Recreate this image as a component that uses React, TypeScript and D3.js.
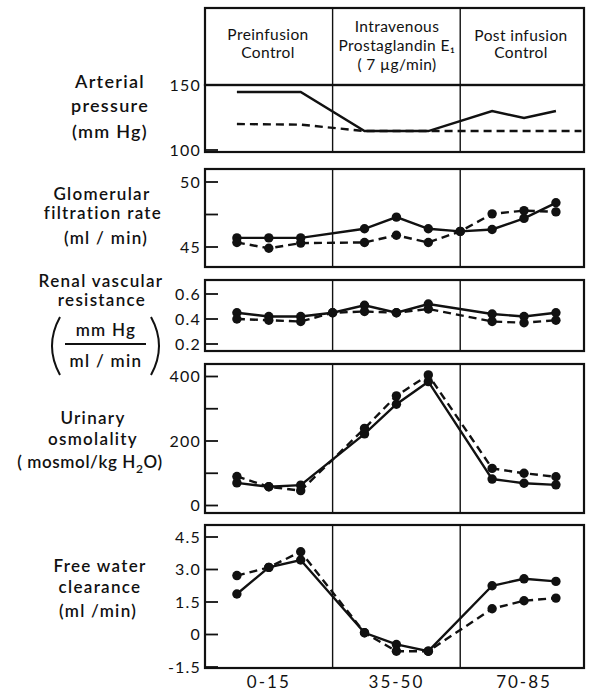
import React from "react";
import * as d3 from "d3";

// ---------- data ----------
const periodLabels = ["Preinfusion|Control", "Intravenous|Prostaglandin E₁|( 7 µg/min)", "Post infusion|Control"];
const xTickLabels = ["0-15", "35-50", "70-85"];
const xTickIdx = [1, 5, 9];

const artSolidX = [0, 2, 4, 6, 8, 9, 10];
const artSolid = [144.6, 144.6, 114.6, 114.6, 130, 124.6, 130];
const artDashX = [0, 2, 4, 10.8];
const artDash = [120, 119.5, 114.6, 114.6];

const gfrX = [0, 1, 2, 4, 5, 6, 7, 8, 9, 10];
const gfrSolid = [45.7, 45.7, 45.7, 46.4, 47.3, 46.4, 46.2, 46.35, 47.2, 48.4];
const gfrDash = [45.35, 44.9, 45.3, 45.35, 45.9, 45.35, 46.2, 47.55, 47.8, 47.7];

const rvrX = [0, 1, 2, 3, 4, 5, 6, 8, 9, 10];
const rvrSolid = [0.45, 0.42, 0.42, 0.45, 0.51, 0.45, 0.52, 0.44, 0.42, 0.45];
const rvrDash = [0.4, 0.39, 0.38, 0.45, 0.46, 0.45, 0.48, 0.38, 0.37, 0.39];

const osmX = [0, 1, 2, 4, 5, 6, 8, 9, 10];
const osmSolid = [70, 58, 63, 222, 314, 384, 82, 69, 64];
const osmDash = [90, 58, 46, 239, 340, 405, 115, 100, 89];

const fwcX = [0, 1, 2, 4, 5, 6, 8, 9, 10];
const fwcSolid = [1.87, 3.1, 3.44, 0.08, -0.46, -0.77, 2.25, 2.57, 2.45];
const fwcDash = [2.72, 3.1, 3.82, 0.08, -0.77, -0.77, 1.19, 1.56, 1.68];

const artTicks = [150, 100];
const artTickLabels = ["150", "100"];
const gfrTicks = [50, 47.5, 45];
const gfrTickLabels = ["50", "", "45"];
const rvrTicks = [0.6, 0.4, 0.2];
const rvrTickLabels = ["0.6", "0.4", "0.2"];
const osmTicks = [400, 300, 200, 100, 0];
const osmTickLabels = ["400", "", "200", "", "0"];
const fwcTicks = [4.5, 3.0, 1.5, 0, -1.5];
const fwcTickLabels = ["4.5", "3.0", "1.5", "0", "-1.5"];

const dividers = [3, 7];

// ---------- layout ----------
const W = 590, H = 693;
const LEFT = 205, RIGHT = 584;
const x = d3.scaleLinear().domain([-1, 10.88]).range([LEFT, RIGHT]);
const FONT = "Lato, 'Open Sans', sans-serif";

type Panel = {
  top: number; bottom: number; dom: [number, number]; rng: [number, number];
  ticks: number[]; tickLabels: string[];
  series: { xs: number[]; ys: number[]; dashed: boolean; dots: boolean }[];
};

const panels: Panel[] = [
  { top: 85, bottom: 152, dom: [150, 100], rng: [85, 150], ticks: artTicks, tickLabels: artTickLabels,
    series: [
      { xs: artSolidX, ys: artSolid, dashed: false, dots: false },
      { xs: artDashX, ys: artDash, dashed: true, dots: false },
    ] },
  { top: 169, bottom: 267, dom: [50, 45], rng: [182, 247], ticks: gfrTicks, tickLabels: gfrTickLabels,
    series: [
      { xs: gfrX, ys: gfrSolid, dashed: false, dots: true },
      { xs: gfrX, ys: gfrDash, dashed: true, dots: true },
    ] },
  { top: 280, bottom: 351, dom: [0.6, 0.2], rng: [294, 344], ticks: rvrTicks, tickLabels: rvrTickLabels,
    series: [
      { xs: rvrX, ys: rvrSolid, dashed: false, dots: true },
      { xs: rvrX, ys: rvrDash, dashed: true, dots: true },
    ] },
  { top: 364, bottom: 513, dom: [400, 0], rng: [376.5, 505.5], ticks: osmTicks, tickLabels: osmTickLabels,
    series: [
      { xs: osmX, ys: osmSolid, dashed: false, dots: true },
      { xs: osmX, ys: osmDash, dashed: true, dots: true },
    ] },
  { top: 525, bottom: 668, dom: [4.5, -1.5], rng: [537, 667], ticks: fwcTicks, tickLabels: fwcTickLabels,
    series: [
      { xs: fwcX, ys: fwcSolid, dashed: false, dots: true },
      { xs: fwcX, ys: fwcDash, dashed: true, dots: true },
    ] },
];

const labelStyle = { fontFamily: FONT, fontSize: 17, fontWeight: 600 as const, fill: "#111", letterSpacing: 1.3 };

function PanelView({ p }: { p: Panel }) {
  const y = d3.scaleLinear().domain(p.dom).range(p.rng);
  const line = d3.line<[number, number]>().x(d => x(d[0])).y(d => y(d[1]));
  return (
    <g>
      <rect x={LEFT} y={p.top} width={RIGHT - LEFT} height={p.bottom - p.top} fill="none" stroke="#111" strokeWidth={2.2} />
      {dividers.map(d => (
        <line key={d} x1={x(d)} x2={x(d)} y1={p.top} y2={p.bottom} stroke="#111" strokeWidth={1.4} />
      ))}
      {p.ticks.map((t, i) => (
        <g key={i}>
          <line x1={LEFT} x2={LEFT + 13} y1={y(t)} y2={y(t)} stroke="#111" strokeWidth={1.8} />
          <text x={LEFT - 4} y={y(t)} dy="0.36em" textAnchor="end"
            style={{ fontFamily: FONT, fontSize: 16, fill: "#111", letterSpacing: 1.2 }}>{p.tickLabels[i]}</text>
        </g>
      ))}
      {p.series.map((s, si) => {
        const pts = s.xs.map((xv, i) => [xv, s.ys[i]] as [number, number]);
        return (
          <g key={si}>
            <path d={line(pts) || ""} fill="none" stroke="#111" strokeWidth={2.4}
              strokeDasharray={s.dashed ? "8,5" : undefined} />
            {s.dots && pts.map((d, i) => (
              <circle key={i} cx={x(d[0])} cy={y(d[1])} r={4.7} fill="#111" />
            ))}
          </g>
        );
      })}
    </g>
  );
}

export default function App() {
  const headerTop = 8, headerBottom = 85;
  const colCenters = [268, 397, 521];
  const headerLines = [[35, 53], [27, 46, 65], [36, 53]];
  return (
    <svg width={W} height={H} style={{ position: "absolute", left: 0, top: 0, background: "#fff" }}>
      <rect x={0} y={0} width={W} height={H} fill="#fff" />
      {/* header */}
      <rect x={LEFT} y={headerTop} width={RIGHT - LEFT} height={headerBottom - headerTop} fill="none" stroke="#111" strokeWidth={2.2} />
      {dividers.map(d => (
        <line key={d} x1={x(d)} x2={x(d)} y1={headerTop} y2={headerBottom} stroke="#111" strokeWidth={1.4} />
      ))}
      {periodLabels.map((lab, i) => (
        <g key={i}>
          {lab.split("|").map((ln, j) => (
            <text key={j} x={colCenters[i]} y={headerLines[i][j]} dy="0.35em" textAnchor="middle"
              style={{ fontFamily: FONT, fontSize: 15.5, fill: "#111", letterSpacing: 0.4 }}>{ln}</text>
          ))}
        </g>
      ))}
      {panels.map((p, i) => <PanelView key={i} p={p} />)}

      {/* left labels */}
      <g style={labelStyle}>
        <text x={110} y={82} dy="0.35em" textAnchor="middle" style={{ fontSize: 18 }}>Arterial</text>
        <text x={110} y={106} dy="0.35em" textAnchor="middle" style={{ fontSize: 18 }}>pressure</text>
        <text x={110} y={132} dy="0.35em" textAnchor="middle" style={{ fontSize: 18 }}>(mm Hg)</text>

        <text x={102} y={194} dy="0.35em" textAnchor="middle">Glomerular</text>
        <text x={103} y={213} dy="0.35em" textAnchor="middle">filtration  rate</text>
        <text x={106} y={238} dy="0.35em" textAnchor="middle">(ml / min)</text>

        <text x={101} y={281} dy="0.35em" textAnchor="middle">Renal vascular</text>
        <text x={102} y={300} dy="0.35em" textAnchor="middle">resistance</text>
        <text x={106} y={330} dy="0.35em" textAnchor="middle">mm Hg</text>
        <text x={106} y={361} dy="0.35em" textAnchor="middle">ml / min</text>

        <text x={93} y={418} dy="0.35em" textAnchor="middle">Urinary</text>
        <text x={93} y={439} dy="0.35em" textAnchor="middle">osmolality</text>
        <text x={90} y={462} dy="0.35em" textAnchor="middle" style={{ letterSpacing: 0.6 }}>( mosmol/kg H<tspan dy="5" style={{ fontSize: 12 }}>2</tspan><tspan dy="-5">O)</tspan></text>

        <text x={100} y={566} dy="0.35em" textAnchor="middle">Free water</text>
        <text x={100} y={587} dy="0.35em" textAnchor="middle">clearance</text>
        <text x={98} y={611} dy="0.35em" textAnchor="middle">(ml /min)</text>
      </g>
      <line x1={65} x2={146} y1={344} y2={344} stroke="#111" strokeWidth={1.8} />
      <path d="M 60 317 Q 44 346 60 375" fill="none" stroke="#111" strokeWidth={2} />
      <path d="M 151 317 Q 167 346 151 375" fill="none" stroke="#111" strokeWidth={2} />

      {/* x labels */}
      {xTickLabels.map((t, i) => (
        <text key={i} x={x(xTickIdx[i])} y={682} dy="0.35em" textAnchor="middle"
          style={{ fontFamily: FONT, fontSize: 17, fill: "#111", letterSpacing: 2 }}>{t}</text>
      ))}
    </svg>
  );
}
